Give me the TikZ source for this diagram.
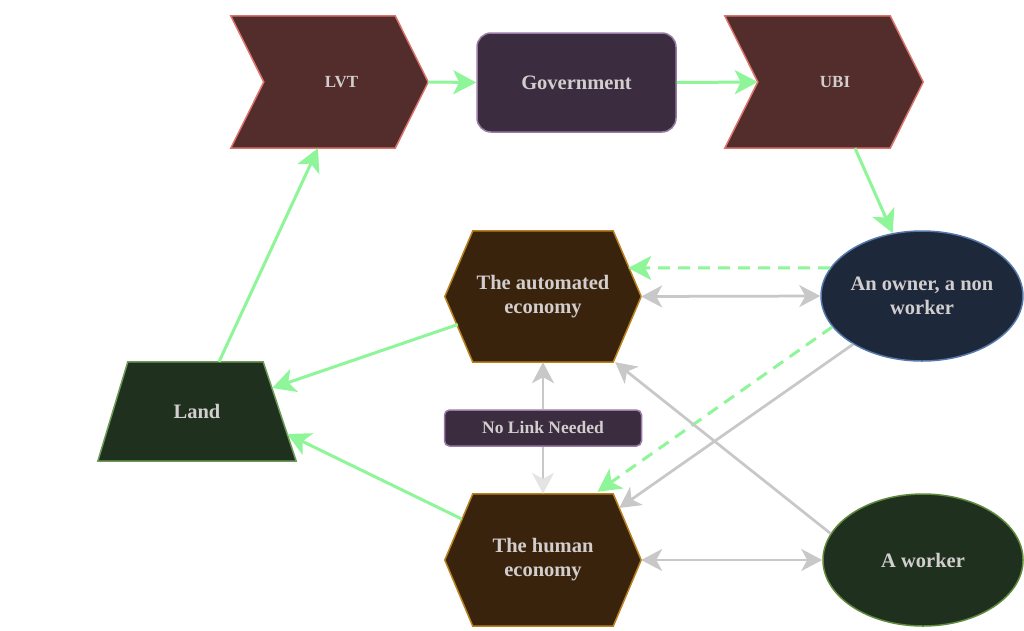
\documentclass[tikz,border=0pt]{standalone}
\usepackage{fontspec}
\setmainfont{Liberation Serif}
\usetikzlibrary{shapes.geometric,arrows.meta,calc}
\definecolor{txtc}{RGB}{210,206,206}
\definecolor{grn}{RGB}{142,245,152}
\definecolor{gry}{RGB}{200,200,200}
\definecolor{gryl}{RGB}{228,228,228}
\definecolor{chevfill}{RGB}{82,45,43}
\definecolor{chevdraw}{RGB}{217,115,108}
\definecolor{govfill}{RGB}{59,45,63}
\definecolor{govdraw}{RGB}{154,122,166}
\definecolor{hexfill}{RGB}{58,35,12}
\definecolor{hexdraw}{RGB}{184,128,31}
\definecolor{landfill}{RGB}{32,48,31}
\definecolor{landdraw}{RGB}{109,154,88}
\definecolor{ownfill}{RGB}{30,40,59}
\definecolor{owndraw}{RGB}{85,119,170}
\definecolor{wrkdraw}{RGB}{95,138,62}
\pgfdeclarelayer{bg}
\pgfsetlayers{bg,main}
\begin{document}
\begin{tikzpicture}[x=1pt,y=-1pt,
  txt/.style={text=txtc,font=\bfseries\fontsize{20.5}{24}\selectfont,align=center},
  smalltxt/.style={text=txtc,font=\bfseries\fontsize{17}{20}\selectfont,align=center},
  holder/.style={rectangle,inner sep=0pt,draw=none},
  chevshape/.style={fill=chevfill,draw=chevdraw,line width=1.5pt,line join=miter},
  hexshape/.style={fill=hexfill,draw=hexdraw,line width=1.5pt},
  landshape/.style={fill=landfill,draw=landdraw,line width=1.5pt},
  govbox/.style={rectangle,rounded corners=14pt,fill=govfill,draw=govdraw,line width=1.5pt,minimum width=199pt,minimum height=99pt,inner sep=0pt},
  ownbox/.style={ellipse,fill=ownfill,draw=owndraw,line width=1.5pt,inner sep=0pt},
  wrkbox/.style={ellipse,fill=landfill,draw=wrkdraw,line width=1.5pt,inner sep=0pt},
  linkbox/.style={rectangle,rounded corners=5pt,fill=govfill,draw=govdraw,line width=1.5pt,minimum width=197pt,minimum height=36pt,inner sep=0pt,text=txtc,font=\bfseries\fontsize{17.5}{20}\selectfont},
  garrow/.style={draw=grn,line width=3pt,-{Stealth[length=23pt,width=24pt,inset=6pt]}},
  gdash/.style={garrow,dash pattern=on 12pt off 8pt},
  yarrow/.style={draw=gry,line width=2.75pt,-{Stealth[length=21pt,width=22pt,inset=6pt]}},
  ybiarrow/.style={draw=gry,line width=2.75pt,{Stealth[length=21pt,width=22pt,inset=6pt]}-{Stealth[length=21pt,width=22pt,inset=6pt]}}
]
\useasboundingbox (0,0) rectangle (1024,630);

% nodes
\node[holder,minimum width=197pt,minimum height=132pt] (lvt) at (329.5,82) {};
\node[smalltxt] (lvtlabel) at ($(lvt.center)+(12,0)$) {LVT};
\node[govbox,txt] (gov) at (576.5,82.5) {Government};
\node[holder,minimum width=198pt,minimum height=132pt] (ubi) at (824,82) {};
\node[smalltxt] (ubilabel) at ($(ubi.center)+(11,0)$) {UBI};
\node[holder,txt,minimum width=196pt,minimum height=131pt] (auto) at (543,296.5) {The automated\\economy};
\node[holder,txt,minimum width=196pt,minimum height=132pt] (human) at (543,560) {The human\\economy};
\node[holder,txt,minimum width=198pt,minimum height=99pt] (land) at (197,411.5) {Land};
\node[ownbox,txt,minimum width=198pt,minimum height=130pt] (owner) at (922,296) {An owner, a non\\worker};
\node[wrkbox,txt,minimum width=200pt,minimum height=132pt] (worker) at (923,560) {A worker};
\node[linkbox] (nolink) at (543,428) {No Link Needed};

% shapes behind text
\begin{pgfonlayer}{bg}
\draw[chevshape] (lvt.north west) -- ($(lvt.north east)+(-33,0)$) -- (lvt.east) -- ($(lvt.south east)+(-33,0)$) -- (lvt.south west) -- ($(lvt.west)+(33,0)$) -- cycle;
\draw[chevshape] (ubi.north west) -- ($(ubi.north east)+(-33,0)$) -- (ubi.east) -- ($(ubi.south east)+(-33,0)$) -- (ubi.south west) -- ($(ubi.west)+(33,0)$) -- cycle;
\draw[hexshape] ($(auto.north west)+(28,0)$) -- ($(auto.north east)+(-28,0)$) -- (auto.east) -- ($(auto.south east)+(-28,0)$) -- ($(auto.south west)+(28,0)$) -- (auto.west) -- cycle;
\draw[hexshape] ($(human.north west)+(28,0)$) -- ($(human.north east)+(-28,0)$) -- (human.east) -- ($(human.south east)+(-28,0)$) -- ($(human.south west)+(28,0)$) -- (human.west) -- cycle;
\draw[landshape] ($(land.north west)+(30,0)$) -- ($(land.north east)+(-33,0)$) -- (land.south east) -- (land.south west) -- cycle;
\end{pgfonlayer}

% green connectors
\draw[garrow] (lvt.east) -- (gov.west);
\draw[garrow] (gov.east) -- ($(ubi.west)+(33,0)$);
\draw[garrow] ($(ubi.south)+(31,0)$) -- (owner.115);
\draw[garrow] ($(land.north)+(22,0)$) -- ($(lvt.south)+(-11.5,0)$);
\draw[garrow] ($(auto.west)+(13,28)$) -- ($(land.east)+(-24,-23.5)$);
\draw[garrow] ($(human.west)+(17,-41)$) -- ($(land.east)+(-9,22.5)$);
\draw[gdash] (owner.163) -- ($(auto.east)+(-13,-28.5)$);
\draw[gdash] (owner.199) -- ($(human.north)+(54.5,-2)$);

% grey connectors
\draw[ybiarrow] (auto.east) -- (owner.west);
\draw[ybiarrow] (human.east) -- (worker.west);
\draw[yarrow] (owner.215) -- ($(human.east)+(-22,-52)$);
\draw[yarrow] (worker.164) -- ($(auto.south east)+(-26,0)$);
\draw[yarrow] (nolink) -- (auto.south);
\draw[draw=gry,line width=2.75pt,-{Stealth[length=21pt,width=22pt,inset=6pt,color=gryl]}] (nolink) -- (human.north);
\end{tikzpicture}
\end{document}
